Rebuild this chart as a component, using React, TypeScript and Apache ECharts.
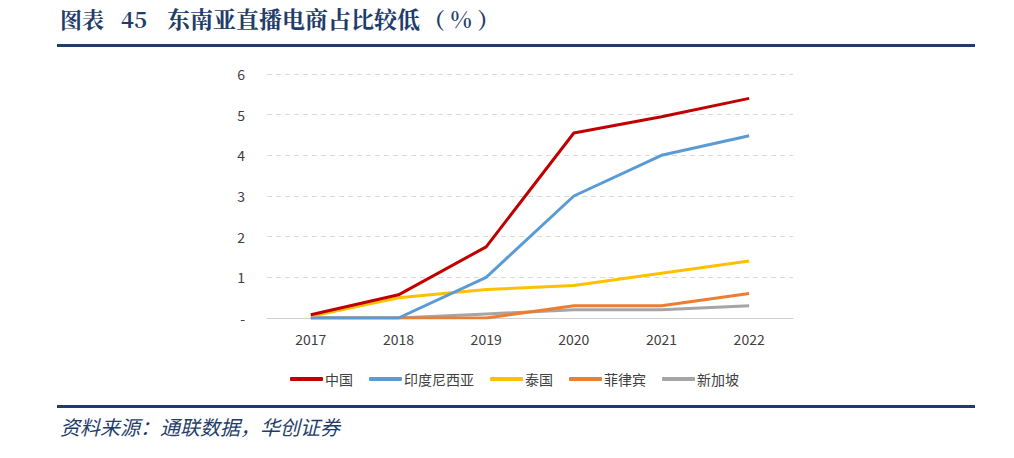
import React, { useEffect, useRef } from "react";
import * as echarts from "echarts";

const years = ["2017", "2018", "2019", "2020", "2021", "2022"];
const seriesNames = ["中国", "印度尼西亚", "泰国", "菲律宾", "新加坡"];
const china = [0.08, 0.57, 1.75, 4.55, 4.95, 5.4];
const indonesia = [0, 0, 1.0, 3.0, 4.0, 4.48];
const thailand = [0.04, 0.5, 0.7, 0.8, 1.1, 1.4];
const philippines = [0, 0, 0, 0.3, 0.3, 0.6];
const singapore = [0, 0, 0.1, 0.2, 0.2, 0.3];
const colors = ["#C00000", "#5B9BD5", "#FFC000", "#ED7D31", "#A5A5A5"];
const titleParts = ["图表", "45", "东南亚直播电商占比较低", "（ % ）"];
const sourceText = "资料来源：通联数据，华创证券";

export default function App() {
  const ref = useRef<HTMLDivElement>(null);
  useEffect(() => {
    document.body.style.margin = "0";
    const chart = echarts.init(ref.current!, null, { renderer: "svg" });
    const data = [china, indonesia, thailand, philippines, singapore];
    const titleX = [60, 121, 167, 423];
    const titleSize = [22, 22, 23, 22];
    chart.setOption({
      animation: false,
      textStyle: { fontFamily: "'Noto Sans CJK SC', 'Noto Sans', sans-serif" },
      grid: { left: 267, right: 221, top: 74, bottom: 140 },
      legend: {
        left: 285,
        top: 367,
        itemWidth: 33,
        itemHeight: 4,
        itemGap: 16,
        icon: "roundRect",
        textStyle: { fontSize: 14, color: "#404040", padding: [0, 0, 0, -3] },
        data: seriesNames,
      },
      xAxis: {
        type: "category",
        data: years,
        boundaryGap: true,
        axisLine: { lineStyle: { color: "#D0D0D0", width: 1 } },
        axisTick: { show: false },
        axisLabel: { color: "#404040", fontSize: 14, margin: 14 },
      },
      yAxis: {
        type: "value",
        min: 0,
        max: 6,
        interval: 1,
        axisLine: { show: false },
        axisTick: { show: false },
        axisLabel: {
          color: "#404040",
          fontSize: 14,
          margin: 22,
          formatter: (v: number) => (v === 0 ? "-" : String(v)),
        },
        splitLine: { lineStyle: { color: "#D9D9D9", type: [5, 4], width: 1 } },
      },
      series: seriesNames.map((name, i) => ({
        name,
        type: "line",
        data: data[i],
        showSymbol: false,
        symbol: "none",
        z: 10 - i,
        lineStyle: { color: colors[i], width: 3 },
        itemStyle: { color: colors[i] },
      })),
      graphic: [
        ...titleParts.map((t, i) => ({
          type: "text",
          left: titleX[i],
          top: 7,
          style: {
            text: t,
            fontSize: titleSize[i],
            fontWeight: "bold",
            fill: "#1F3D6B",
            fontFamily: "'Noto Serif CJK SC', 'Noto Sans CJK SC', serif",
          },
        })),
        {
          type: "rect",
          shape: { x: 57, y: 44, width: 918, height: 3 },
          style: { fill: "#1F3D6B" },
        },
        {
          type: "rect",
          shape: { x: 57, y: 405, width: 918, height: 3 },
          style: { fill: "#1F3D6B" },
        },
        {
          type: "text",
          left: 60,
          top: 416,
          style: {
            text: sourceText,
            fontSize: 20,
            fontStyle: "italic",
            fill: "#1F3D6B",
            fontFamily: "'Noto Sans CJK SC', sans-serif",
          },
        },
      ],
    });
    return () => chart.dispose();
  }, []);
  return <div ref={ref} style={{ width: 1014, height: 458 }} />;
}
